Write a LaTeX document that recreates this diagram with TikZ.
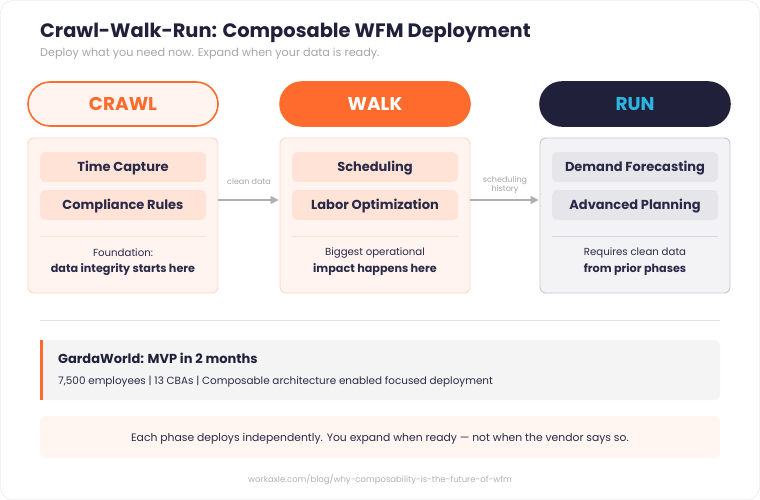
\documentclass[tikz,border=0pt]{standalone}
\usepackage{fontspec}
\setmainfont{Poppins}
\usepackage{tikz}
\usetikzlibrary{arrows.meta, positioning}
\definecolor{accent}{HTML}{FF6B2C}
\definecolor{navy}{HTML}{20203A}
\definecolor{ink}{HTML}{2A2A48}
\definecolor{cyanrun}{HTML}{2BB6E2}
\definecolor{peach}{HTML}{FFF4EF}
\definecolor{peachline}{HTML}{FFD6C4}
\definecolor{peachitem}{HTML}{FFE3D6}
\definecolor{greybox}{HTML}{F3F3F6}
\definecolor{greyline}{HTML}{C6C6D2}
\definecolor{greyitem}{HTML}{E6E6EA}
\definecolor{muted}{HTML}{A6A6A6}

\newcommand{\fs}[1]{\fontsize{#1}{#1}\selectfont}

\begin{document}
\begin{tikzpicture}[x=1pt, y=-1pt,
  pill/.style={minimum width=190pt, minimum height=44pt, rounded corners=22pt,
    font=\fs{18.5}\bfseries, line width=1.6pt},
  phase/.style={minimum width=190pt, minimum height=155pt, rounded corners=6pt, line width=0.9pt},
  item/.style={minimum width=166pt, minimum height=30pt, rounded corners=5pt,
    text height=9pt, text depth=0pt, font=\fs{13}\bfseries, text=ink},
  note/.style={font=\fs{10.2}, text=ink},
  noteb/.style={font=\fs{11.2}\bfseries, text=ink},
  flow/.style={-{Triangle[length=8pt, width=8pt]}, draw=muted!90, line width=1.6pt},
  flowlbl/.style={font=\fs{8}, text=muted, align=center}]
  \useasboundingbox (0,0) rectangle (760,500);
  % Karta
  \draw[rounded corners=12pt, draw=black!12, fill=white] (0.5,0.5) rectangle (759.5,499.5);
  \node[anchor=base west, inner sep=0pt, font=\fs{19.4}\bfseries, text=navy] (title) at (40,38) {Crawl-Walk-Run: Composable WFM Deployment};
  \node[anchor=base west, inner sep=0pt, font=\fs{11.2}, text=muted] (sub) at (40,57) {Deploy what you need now. Expand when your data is ready.};
  % Faze
  \node[pill, draw=accent, fill=peach, text=accent] (crawl) at (123,104) {CRAWL};
  \node[pill, draw=accent, fill=accent, text=white] (walk) at (375,104) {WALK};
  \node[pill, draw=navy, fill=navy, text=cyanrun] (run) at (635,104) {RUN};
  \node[phase, draw=peachline, fill=peach] (crawlbox) at (123,215.5) {};
  \node[phase, draw=peachline, fill=peach] (walkbox) at (375,215.5) {};
  \node[phase, draw=greyline, fill=greybox] (runbox) at (635,215.5) {};
  % Moduly
  \node[item, fill=peachitem] (timecap) at (123,167) {Time Capture};
  \node[item, fill=peachitem] (comply) at (123,205) {Compliance Rules};
  \node[item, fill=peachitem] (sched) at (375,167) {Scheduling};
  \node[item, fill=peachitem] (laborop) at (375,205) {Labor Optimization};
  \node[item, fill=greyitem] (demand) at (635,167) {Demand Forecasting};
  \node[item, fill=greyitem] (advplan) at (635,205) {Advanced Planning};
  \foreach \x/\c in {123/peachline, 375/peachline, 635/greyline} {
    \draw[\c!70, line width=0.8pt] (\x-83,236) -- (\x+83,236);
  }
  \node[note] (crawlnote) at (123,252.5) {Foundation:};
  \node[noteb] (crawlnoteb) at (123,269.5) {data integrity starts here};
  \node[note] (walknote) at (375,252.5) {Biggest operational};
  \node[noteb] (walknoteb) at (375,269.5) {impact happens here};
  \node[note] (runnote) at (635,252.5) {Requires clean data};
  \node[noteb] (runnoteb) at (635,269.5) {from prior phases};
  % Sipky
  \draw[flow, shorten >=1pt] ([yshift=15.5pt]crawlbox.east) -- ([yshift=15.5pt]walkbox.west);
  \draw[flow, shorten >=1pt] ([yshift=15.5pt]walkbox.east) -- ([yshift=15.5pt]runbox.west);
  \node[flowlbl] (lbla) at (249,182) {clean data};
  \node[flowlbl] (lblb) at (505,185) {scheduling\\[0.5pt]history};
  % Pripad
  \draw[black!12, line width=0.8pt] (40,320) -- (720,320);
  \fill[black!4.5, rounded corners=5pt] (40,340) rectangle (720,400);
  \fill[accent] (40,340) rectangle (43,400);
  \node[anchor=base west, inner sep=0pt, font=\fs{13}\bfseries, text=navy] (garda) at (58,363) {GardaWorld: MVP in 2 months};
  \node[anchor=base west, inner sep=0pt, font=\fs{10.4}, text=ink] (gardasub) at (58,384) {7,500 employees | 13 CBAs | Composable architecture enabled focused deployment};
  \fill[accent!6, rounded corners=6pt] (40,416) rectangle (720,458);
  \node[font=\fs{10.8}, text=ink] (claim) at (380,438.5) {Each phase deploys independently. You expand when ready — not when the vendor says so.};
  \node[font=\fs{8.5}, text=black!30] (url) at (380,480) {workaxle.com/blog/why-composability-is-the-future-of-wfm};
\end{tikzpicture}
\end{document}
